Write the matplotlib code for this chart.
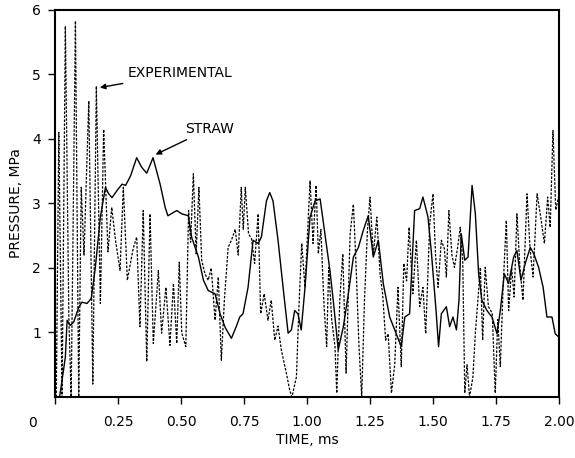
import matplotlib
matplotlib.use('Agg')
import matplotlib.pyplot as plt

# experimental trace (dotted) - time in ms, pressure in MPa
exp_t = [0.005, 0.015, 0.028, 0.041, 0.055, 0.064, 0.081, 0.094, 0.104, 0.115,
         0.134, 0.150, 0.164, 0.180, 0.193, 0.210, 0.225, 0.240, 0.258, 0.271,
         0.287, 0.310, 0.324, 0.337, 0.350, 0.364, 0.377, 0.390, 0.410, 0.423,
         0.440, 0.456, 0.470, 0.483, 0.493, 0.503, 0.519, 0.530, 0.538, 0.549,
         0.560, 0.571, 0.582, 0.595, 0.608, 0.620, 0.635, 0.648, 0.660, 0.672,
         0.687, 0.700, 0.715, 0.727, 0.739, 0.747, 0.755, 0.768, 0.780, 0.792,
         0.806, 0.816, 0.830, 0.845, 0.858, 0.872, 0.885, 0.898, 0.918, 0.931,
         0.940, 0.958, 0.968, 0.979, 0.992, 1.012, 1.024, 1.036, 1.045, 1.055,
         1.067, 1.078, 1.086, 1.098, 1.111, 1.118, 1.130, 1.142, 1.155, 1.171,
         1.184, 1.195, 1.206, 1.217, 1.228, 1.240, 1.250, 1.263, 1.277, 1.290,
         1.300, 1.312, 1.322, 1.335, 1.348, 1.361, 1.374, 1.384, 1.395, 1.405,
         1.420, 1.434, 1.447, 1.460, 1.471, 1.487, 1.500, 1.510, 1.520, 1.533,
         1.545, 1.553, 1.563, 1.575, 1.585, 1.597, 1.608, 1.618, 1.626, 1.635,
         1.645, 1.658, 1.668, 1.680, 1.688, 1.697, 1.707, 1.720, 1.735, 1.747,
         1.757, 1.767, 1.778, 1.791, 1.800, 1.812, 1.822, 1.833, 1.845, 1.857,
         1.873, 1.885, 1.897, 1.913, 1.927, 1.942, 1.955, 1.965, 1.976, 1.987,
         1.999]
exp_p = [0.0, 4.1, 0.0, 5.75, 1.2, 0.0, 5.83, 0.0, 3.25, 2.2,
         4.59, 0.2, 4.82, 1.45, 4.15, 2.25, 2.94, 2.43, 1.96, 3.25,
         1.81, 2.3, 2.48, 1.09, 2.89, 0.55, 2.84, 0.83, 1.96, 0.99,
         1.7, 0.8, 1.76, 0.83, 2.09, 0.99, 0.78, 2.89, 2.4, 3.46,
         2.22, 3.25, 2.12, 1.91, 1.81, 2.0, 1.19, 1.86, 0.57, 1.5,
         2.32, 2.43, 2.6, 2.2, 3.25, 2.6, 3.25, 2.53, 2.45, 2.07,
         2.84, 1.29, 1.6, 1.19, 1.5, 0.88, 1.1, 0.73, 0.37, 0.11,
         0.0, 0.31, 1.4, 2.38, 1.7, 3.35, 2.38, 3.28, 2.22, 2.6,
         1.45, 0.78, 2.01, 1.2, 0.78, 0.06, 1.5, 2.22, 0.37, 2.53,
         2.99, 2.0, 0.8, 0.0, 1.5, 2.6, 3.1, 2.2, 2.79, 1.9,
         1.6, 0.88, 0.98, 0.06, 0.5, 1.7, 0.47, 2.07, 1.8, 2.63,
         1.6, 2.43, 1.4, 1.7, 0.98, 2.69, 3.15, 2.2, 1.7, 2.43,
         2.3, 1.86, 2.89, 2.2, 2.01, 2.3, 2.63, 2.1, 0.06, 0.5,
         0.0, 0.3, 0.99, 1.6, 2.01, 0.88, 2.01, 1.4, 1.3, 0.06,
         1.2, 0.47, 1.7, 2.74, 1.34, 2.0, 1.55, 2.84, 2.0, 1.5,
         3.15, 2.3, 1.86, 3.15, 2.8, 2.38, 3.1, 2.63, 4.13, 2.9,
         3.12]

# STRAW calculation (solid)
straw_t = [0.018, 0.028, 0.041, 0.048, 0.060, 0.074, 0.094, 0.107, 0.127, 0.144,
           0.160, 0.180, 0.200, 0.213, 0.226, 0.246, 0.266, 0.280, 0.300, 0.324,
           0.344, 0.364, 0.389, 0.417, 0.437, 0.448, 0.465, 0.483, 0.503, 0.529,
           0.542, 0.569, 0.589, 0.608, 0.635, 0.655, 0.675, 0.700, 0.720, 0.733,
           0.746, 0.766, 0.786, 0.806, 0.819, 0.839, 0.852, 0.865, 0.885, 0.905,
           0.925, 0.938, 0.951, 0.964, 0.977, 0.992, 1.012, 1.032, 1.052, 1.071,
           1.091, 1.104, 1.124, 1.144, 1.164, 1.184, 1.204, 1.223, 1.243, 1.263,
           1.283, 1.303, 1.328, 1.354, 1.374, 1.388, 1.407, 1.427, 1.447, 1.460,
           1.480, 1.494, 1.513, 1.522, 1.533, 1.553, 1.566, 1.579, 1.593, 1.603,
           1.612, 1.626, 1.639, 1.655, 1.668, 1.681, 1.694, 1.714, 1.734, 1.754,
           1.767, 1.783, 1.800, 1.820, 1.833, 1.849, 1.866, 1.886, 1.900, 1.919,
           1.937, 1.952, 1.972, 1.985, 1.999]
straw_p = [0.0, 0.26, 0.62, 1.19, 1.11, 1.16, 1.39, 1.47, 1.45, 1.53,
           2.01, 2.79, 3.25, 3.15, 3.09, 3.2, 3.3, 3.28, 3.43, 3.71,
           3.56, 3.47, 3.71, 3.3, 2.94, 2.81, 2.85, 2.89, 2.84, 2.81,
           2.48, 2.17, 1.81, 1.65, 1.6, 1.29, 1.08, 0.91, 1.1, 1.24,
           1.29, 1.7, 2.43, 2.38, 2.48, 3.04, 3.17, 3.04, 2.43, 1.7,
           0.99, 1.04, 1.34, 1.29, 1.04, 1.7, 2.79, 3.04, 3.07, 2.53,
           1.96, 1.5, 0.73, 1.09, 1.6, 2.17, 2.32, 2.58, 2.81, 2.17,
           2.43, 1.75, 1.24, 0.98, 0.78, 1.24, 1.29, 2.89, 2.92, 3.1,
           2.79, 2.22, 1.29, 0.78, 1.29, 1.4, 1.09, 1.24, 1.04, 1.5,
           2.53, 2.12, 2.17, 3.28, 2.84, 1.91, 1.5, 1.34, 1.24, 0.98,
           1.34, 1.91, 1.76, 2.17, 2.27, 1.81, 2.07, 2.32, 2.22, 2.01,
           1.7, 1.24, 1.24, 0.98, 0.93]

xticks = [0, 0.25, 0.5, 0.75, 1.0, 1.25, 1.5, 1.75, 2.0]
xlabels = ['', '0.25', '0.50', '0.75', '1.00', '1.25', '1.50', '1.75', '2.00']
yticks = [1, 2, 3, 4, 5, 6]

fig = plt.figure(figsize=(5.75, 4.58), dpi=100)
ax = fig.add_axes([0.0957, 0.1332, 0.8765, 0.845])

ax.plot(exp_t, exp_p, color='black', lw=0.9, linestyle=(0, (2, 1.2)))
ax.plot(straw_t, straw_p, color='black', lw=1.0)

ax.set_xlim(0, 2.0)
ax.set_ylim(0, 6)
ax.set_xticks(xticks)
ax.set_xticklabels(xlabels, fontsize=10)
ax.set_yticks(yticks)
ax.set_yticklabels([str(v) for v in yticks], fontsize=10)
ax.tick_params(direction='out', length=5, width=1)
ax.tick_params(axis='x', pad=8)
ax.tick_params(axis='y', pad=5)
for s in ax.spines.values():
    s.set_linewidth(1.5)

# the origin label sits well left of the axis in the original
ax.text(-0.044, -0.067, '0', transform=ax.transAxes, ha='center', va='center', fontsize=10)

ax.set_xlabel('TIME, ms', fontsize=10, labelpad=3)
ax.set_ylabel('PRESSURE, MPa', fontsize=10, labelpad=7)

ax.annotate('EXPERIMENTAL', xy=(0.167, 4.79), xytext=(0.29, 5.02),
            fontsize=10, va='center', ha='left',
            arrowprops=dict(arrowstyle='-|>', color='black', lw=1, mutation_scale=8))
ax.annotate('STRAW', xy=(0.389, 3.74), xytext=(0.516, 4.16),
            fontsize=10, va='center', ha='left',
            arrowprops=dict(arrowstyle='-|>', color='black', lw=1, mutation_scale=8))

fig.savefig('out.png', dpi=100)
